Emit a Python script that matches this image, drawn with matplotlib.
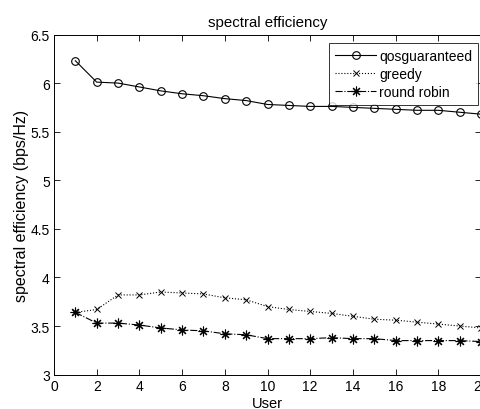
import matplotlib.pyplot as plt
import numpy as np

plt.rcParams['font.family'] = ['Liberation Sans', 'DejaVu Sans']

# users 1..20
users = list(range(1, 21))

qos_guaranteed = [6.23, 6.01, 6.00, 5.96, 5.92, 5.89, 5.87, 5.84, 5.82, 5.78,
                  5.77, 5.76, 5.76, 5.75, 5.74, 5.73, 5.72, 5.72, 5.70, 5.68]
greedy = [3.64, 3.67, 3.82, 3.82, 3.85, 3.84, 3.83, 3.79, 3.77, 3.70,
          3.67, 3.65, 3.63, 3.60, 3.57, 3.56, 3.54, 3.52, 3.50, 3.48]
round_robin = [3.64, 3.53, 3.53, 3.51, 3.48, 3.46, 3.45, 3.42, 3.41, 3.37,
               3.37, 3.37, 3.38, 3.37, 3.37, 3.35, 3.35, 3.35, 3.35, 3.34]

xticks = [0, 2, 4, 6, 8, 10, 12, 14, 16, 18, 20]
yticks = [3, 3.5, 4, 4.5, 5, 5.5, 6, 6.5]

fig = plt.figure(figsize=(4.81, 4.10), dpi=100)
ax = fig.add_axes([0.1123, 0.0839, 0.8877, 0.8295])

ax.plot(users, qos_guaranteed, '-', color='black', lw=0.8, marker='o',
        markersize=5.5, markerfacecolor='none', markeredgewidth=0.8, label='qosguaranteed')
ax.plot(users, greedy, ':', color='black', lw=0.8, marker='x',
        markersize=4, markeredgewidth=0.7, label='greedy')
# MATLAB style asterisk: 8 spokes
ax.plot(users, round_robin, '-.', color='black', lw=0.8, marker=(8, 2, 0),
        markersize=7, markeredgewidth=0.8, label='round robin')

ax.set_xlim(0, 20)
ax.set_ylim(3, 6.5)
ax.set_xticks(xticks)
ax.set_yticks(yticks)
ax.set_xticklabels([str(t) for t in xticks])
ax.set_yticklabels(['3', '3.5', '4', '4.5', '5', '5.5', '6', '6.5'])
ax.tick_params(direction='in', top=True, right=True, length=4, width=0.6,
               labelsize=10, pad=3)
for s in ax.spines.values():
    s.set_linewidth(0.7)

ax.set_title('spectral efficiency', fontsize=10.8, pad=6)
ax.set_xlabel('User', fontsize=10.5, labelpad=2)
ax.set_ylabel('spectral efficiency (bps/Hz)', fontsize=11.5, labelpad=1)

leg = ax.legend(loc='upper right', bbox_to_anchor=(0.994, 0.975), fontsize=10,
                frameon=True, fancybox=False, edgecolor='black', borderaxespad=0,
                handlelength=2.9, borderpad=0.45, labelspacing=0.28, handletextpad=0.25)
leg.get_frame().set_linewidth(0.7)

fig.savefig('out.png', dpi=100)
